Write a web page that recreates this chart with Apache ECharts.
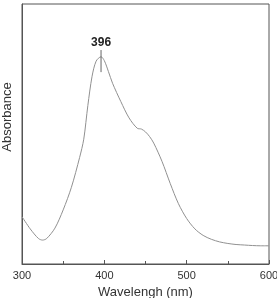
<!DOCTYPE html>
<html>
<head>
<meta charset="utf-8">
<script src="https://cdn.jsdelivr.net/npm/echarts@6/dist/echarts.min.js"></script>
<style>html,body{margin:0;padding:0;background:#fff;}#c{width:277px;height:298px;}</style>
</head>
<body>
<div id="c"></div>
<script>
var wavelengths = [300,310,320,325,330,340,350,360,370,375,380,385,390,396,400,405,410,420,430,440,445,450,455,460,470,480,490,500,510,520,530,540,550,560,570,580,590,600];
var absorbance = [0.182,0.135,0.098,0.092,0.098,0.138,0.208,0.295,0.41,0.48,0.61,0.72,0.78,0.797,0.782,0.74,0.695,0.625,0.562,0.522,0.519,0.508,0.49,0.465,0.395,0.31,0.232,0.175,0.135,0.11,0.095,0.085,0.079,0.075,0.073,0.071,0.070,0.070];
var peakWavelength = 396;
var peakMarkerRange = [0.738, 0.823];
var xTicks = [300, 400, 500, 600];

var chart = echarts.init(document.getElementById('c'), null, {renderer:'canvas'});
var font = '"Liberation Sans", Arial, sans-serif';
chart.setOption({
  animation: false,
  grid: {left: 22, right: 8, top: 4, bottom: 34, show: true, borderColor: '#555', borderWidth: 1, outerBoundsMode: 'none', containLabel: false},
  xAxis: {
    type: 'value', min: xTicks[0], max: xTicks[xTicks.length-1], interval: 100,
    name: 'Wavelengh (nm)', nameLocation: 'middle', nameGap: 22,
    nameTextStyle: {fontFamily: font, fontSize: 13, color: '#333'},
    axisLine: {lineStyle: {color: '#555', width: 1}},
    axisTick: {inside: true, length: 4, lineStyle: {color: '#555'}},
    minorTick: {show: true, splitNumber: 2, length: 3, lineStyle: {color: '#555'}},
    axisLabel: {fontFamily: font, fontSize: 11, color: '#333', margin: 6},
    splitLine: {show: false}
  },
  yAxis: {
    type: 'value', min: 0, max: 1,
    name: 'Absorbance', nameLocation: 'middle', nameGap: 8,
    nameTextStyle: {fontFamily: font, fontSize: 13, color: '#333', padding: [0, 0, 0, 34]},
    axisLine: {show: true, lineStyle: {color: '#555', width: 1}},
    axisTick: {show: false}, axisLabel: {show: false}, splitLine: {show: false}
  },
  series: [
    {type: 'line', data: wavelengths.map(function(w,i){return [w, absorbance[i]];}),
     smooth: 0.3, showSymbol: false, lineStyle: {color: '#909090', width: 1}},
    {type: 'line', data: [[peakWavelength, peakMarkerRange[0]], {value: [peakWavelength, peakMarkerRange[1]], label: {show: true, position: 'top', distance: 1, formatter: String(peakWavelength), fontFamily: font, fontWeight: 'bold', fontSize: 12, color: '#222'}}],
     showSymbol: true, symbol: 'circle', symbolSize: 0, lineStyle: {color: '#666', width: 1}}
  ]
});
</script>
</body>
</html>
